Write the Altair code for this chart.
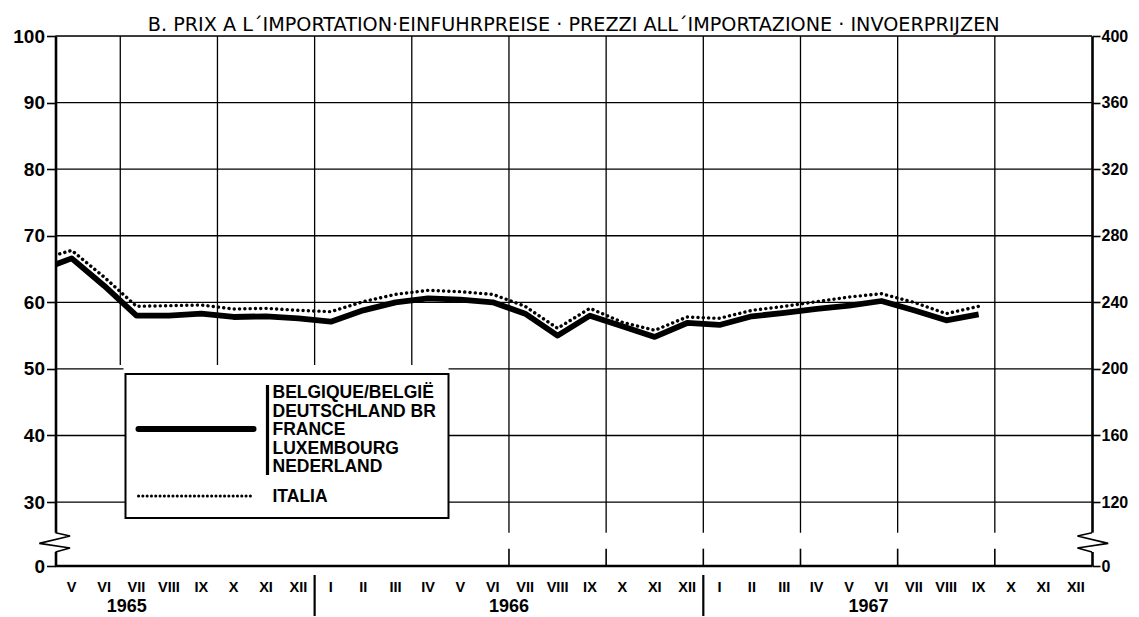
import altair as alt
import pandas as pd

# ---------------- data ----------------
MONTH_LABELS = ["V", "VI", "VII", "VIII", "IX", "X", "XI", "XII",
                "I", "II", "III", "IV", "V", "VI", "VII", "VIII", "IX", "X", "XI", "XII",
                "I", "II", "III", "IV", "V", "VI", "VII", "VIII", "IX", "X", "XI", "XII"]
YEARS = ["1965", "1966", "1967"]
YEAR_POS = [2.2, 14.0, 25.1]          # label position in months from May 1965
YEAR_SEPARATORS = [8, 20]

# monthly index values, April 1965 (clipped at the frame) to September 1967
EEC = [64.8, 66.6, 62.5, 58.0, 58.0, 58.3, 57.8, 57.9, 57.6,
       57.1, 58.8, 60.0, 60.6, 60.4, 60.0, 58.3, 55.0, 58.0, 56.4, 54.8, 56.9,
       56.6, 57.9, 58.4, 59.0, 59.5, 60.2, 58.8, 57.3, 58.2]
ITALIA = [66.4, 67.8, 63.8, 59.4, 59.5, 59.6, 59.0, 59.1, 58.8,
          58.6, 60.1, 61.2, 61.8, 61.6, 61.2, 59.4, 56.1, 59.1, 57.0, 55.8, 57.8,
          57.6, 58.8, 59.4, 60.1, 60.8, 61.3, 60.0, 58.3, 59.4]

Y_GRID = [30, 40, 50, 60, 70, 80, 90, 100]
Y_TICKS = [20.4, 30, 40, 50, 60, 70, 80, 90, 100]
X_GRID = [2, 5, 8, 11, 14, 17, 20, 23, 26, 29]
X_GRID_END = [50.6, 50.6, 50.6, 50.6, 25.4, 25.4, 25.4, 25.4, 25.4, 25.4]
QUARTER_TICKS = [14, 17, 20, 23, 26, 29]
Y_BOTTOM = 20.4   # where the broken axis shows "0"
QUARTER_TICK_TOP = 23.0

LEGEND_EEC = ["BELGIQUE/BELGIË", "DEUTSCHLAND BR", "FRANCE", "LUXEMBOURG", "NEDERLAND"]
LEGEND_IT = "ITALIA"
TITLE = "B. PRIX A L´IMPORTATION·EINFUHRPREISE · PREZZI ALL´IMPORTAZIONE · INVOERPRIJZEN"

# break marks (months, index value)
ZIG_L_X = [0, 0.45, -0.5, 0.45, 0]
ZIG_R_X = [32, 31.55, 32.5, 31.55, 32]
ZIG_Y = [25.4, 24.9, 23.8, 23.1, 22.5]

FONT = "Liberation Sans"

# ---------------- tables ----------------
n = len(EEC)
eec_df = pd.DataFrame({"t": [i - 0.5 for i in range(n)], "v": EEC})
it_df = pd.DataFrame({"t": [i - 0.5 for i in range(n)], "v": ITALIA})
months = pd.DataFrame({"lab": MONTH_LABELS, "c": [i + 0.5 for i in range(len(MONTH_LABELS))]})
ticks = pd.DataFrame({"t": list(range(len(MONTH_LABELS) + 1))})
years = pd.DataFrame({"y": YEARS, "c": YEAR_POS})
seps = pd.DataFrame({"t": YEAR_SEPARATORS})
ygrid = pd.DataFrame({"v": Y_GRID})
xgrid = pd.DataFrame({"t": X_GRID, "e": X_GRID_END, "top": [100] * len(X_GRID)})
qticks = pd.DataFrame({"t": QUARTER_TICKS, "a": [Y_BOTTOM] * len(QUARTER_TICKS),
                       "b": [QUARTER_TICK_TOP] * len(QUARTER_TICKS)})
zig = pd.DataFrame({"x": ZIG_L_X + ZIG_R_X, "y": ZIG_Y * 2, "side": ["L"] * 5 + ["R"] * 5,
                    "o": list(range(5)) * 2})
cover = pd.DataFrame({"x": [0, 32], "y1": [ZIG_Y[0]] * 2, "y2": [ZIG_Y[-1]] * 2})
one = pd.DataFrame({"a": [0]})

xs = alt.Scale(domain=[0, 32], nice=False, zero=False)
ys = alt.Scale(domain=[Y_BOTTOM, 100], nice=False, zero=False)

W, H = 1036.5, 530

# ---------------- layers ----------------
hgrid = alt.Chart(ygrid).mark_rule(color="black", strokeWidth=1.3).encode(
    y=alt.Y("v:Q", scale=ys, axis=None))
vgrid = alt.Chart(xgrid).mark_rule(color="black", strokeWidth=1.3).encode(
    x=alt.X("t:Q", scale=xs, axis=None),
    y=alt.Y("top:Q", scale=ys, axis=None), y2="e:Q")
qtick = alt.Chart(qticks).mark_rule(color="black", strokeWidth=1.6).encode(
    x=alt.X("t:Q", scale=xs, axis=None),
    y=alt.Y("a:Q", scale=ys, axis=None), y2="b:Q")
bottom = alt.Chart(one).mark_rule(color="black", strokeWidth=2.5).encode(
    y=alt.datum(Y_BOTTOM, scale=ys, type="quantitative", axis=None))

xticks = alt.Chart(ticks).mark_rule(opacity=0).encode(
    x=alt.X("t:Q", scale=xs,
            axis=alt.Axis(values=list(range(33)), labels=False, tickSize=10, tickWidth=2,
                          tickColor="black", domain=False, offset=3, grid=False, title=None)),
    y=alt.value(H), y2=alt.value(H))

month_txt = alt.Chart(months).mark_text(font=FONT, fontSize=14.5, fontWeight="bold",
                                        color="black", baseline="middle").encode(
    x=alt.X("c:Q", scale=xs, axis=None), y=alt.value(H + 22), text="lab:N")
year_txt = alt.Chart(years).mark_text(font=FONT, fontSize=18, fontWeight="bold",
                                      color="black", baseline="middle").encode(
    x=alt.X("c:Q", scale=xs, axis=None), y=alt.value(H + 41), text="y:N")
sep = alt.Chart(seps).mark_rule(color="black", strokeWidth=2.2).encode(
    x=alt.X("t:Q", scale=xs, axis=None), y=alt.value(H + 9), y2=alt.value(H + 55))

axis_common = dict(values=Y_TICKS, title=None, grid=False,
                   domainWidth=2.6, domainColor="black", tickColor="black",
                   tickWidth=1.6, labelFont=FONT, labelFontWeight="bold", labelColor="black")
left_axis = alt.Chart(ygrid).mark_rule(opacity=0).encode(
    y=alt.Y("v:Q", scale=ys,
            axis=alt.Axis(orient="left", labelFontSize=19, tickSize=9, labelPadding=2,
                          labelExpr="datum.value < 25 ? '0' : datum.label", **axis_common)))
right_axis = alt.Chart(ygrid).mark_rule(opacity=0).encode(
    y=alt.Y("v:Q", scale=ys,
            axis=alt.Axis(orient="right", labelFontSize=16, tickSize=8, labelPadding=1,
                          labelExpr="datum.value < 25 ? '0' : format(datum.value * 4, 'd')",
                          **axis_common)))

eec_line = alt.Chart(eec_df).mark_line(color="black", strokeWidth=5.8, clip=True,
                                       strokeJoin="round").encode(
    x=alt.X("t:Q", scale=xs, axis=None),
    y=alt.Y("v:Q", scale=ys, axis=None))
it_line = alt.Chart(it_df).mark_line(color="black", strokeWidth=3.4, clip=True,
                                     strokeDash=[0.1, 5.2], strokeCap="round").encode(
    x=alt.X("t:Q", scale=xs, axis=None),
    y=alt.Y("v:Q", scale=ys, axis=None))

cover_l = alt.Chart(cover).mark_rule(color="white", strokeWidth=6).encode(
    x=alt.X("x:Q", scale=xs, axis=None),
    y=alt.Y("y1:Q", scale=ys, axis=None), y2="y2:Q")
zz = alt.Chart(zig).mark_line(color="black", strokeWidth=1.6).encode(
    x=alt.X("x:Q", scale=xs, axis=None),
    y=alt.Y("y:Q", scale=ys, axis=None),
    detail="side:N", order="o:Q")

# legend box (pixel positions inside plot area)
LX0, LX1, LY0, LY1 = 70, 393, 338, 482
leg_mask = alt.Chart(one).mark_rect(fill="white").encode(
    x=alt.value(LX0 - 2), x2=alt.value(LX1), y=alt.value(LY0 - 7), y2=alt.value(LY0))
leg_box = alt.Chart(one).mark_rect(fill="white", stroke="black", strokeWidth=2).encode(
    x=alt.value(LX0), x2=alt.value(LX1), y=alt.value(LY0), y2=alt.value(LY1))
leg_eec = alt.Chart(one).mark_rule(color="black", strokeWidth=6, strokeCap="round").encode(
    x=alt.value(LX0 + 13), x2=alt.value(LX0 + 128), y=alt.value(LY0 + 55), y2=alt.value(LY0 + 55))
leg_it = alt.Chart(one).mark_rule(color="black", strokeWidth=3, strokeDash=[0.1, 4.2],
                                  strokeCap="round").encode(
    x=alt.value(LX0 + 13), x2=alt.value(LX0 + 128), y=alt.value(LY0 + 122), y2=alt.value(LY0 + 122))
leg_bar = alt.Chart(one).mark_rule(color="black", strokeWidth=3.2).encode(
    x=alt.value(LX0 + 142), x2=alt.value(LX0 + 142), y=alt.value(LY0 + 11), y2=alt.value(LY0 + 101))
leg_txt = alt.Chart(one).mark_text(font=FONT, fontSize=17.5, fontWeight="bold", color="black",
                                   align="left", baseline="top", lineHeight=18.5,
                                   lineBreak="\n").encode(
    x=alt.value(LX0 + 147), y=alt.value(LY0 + 10), text=alt.value("\n".join(LEGEND_EEC)))
leg_txt2 = alt.Chart(one).mark_text(font=FONT, fontSize=17.5, fontWeight="bold", color="black",
                                    align="left", baseline="middle").encode(
    x=alt.value(LX0 + 147), y=alt.value(LY0 + 123), text=alt.value(LEGEND_IT))

chart = alt.layer(
    hgrid, vgrid, qtick, bottom, xticks, sep, month_txt, year_txt,
    eec_line, it_line, leg_mask, leg_box, leg_eec, leg_it, leg_bar, leg_txt, leg_txt2,
    cover_l, zz, left_axis, right_axis,
).resolve_scale(y="independent").properties(
    width=W, height=H,
    title=alt.Title(TITLE, font="DejaVu Sans", fontSize=19.2, fontWeight="normal", color="black",
                    anchor="middle", offset=-8),
    autosize=alt.AutoSizeParams(type="none"),
    padding={"left": 47.5, "top": 28, "right": 38, "bottom": 50},
).configure_view(stroke=None).configure(background="white")

chart.save("out.html", embed_options={"renderer": "svg", "actions": False})
